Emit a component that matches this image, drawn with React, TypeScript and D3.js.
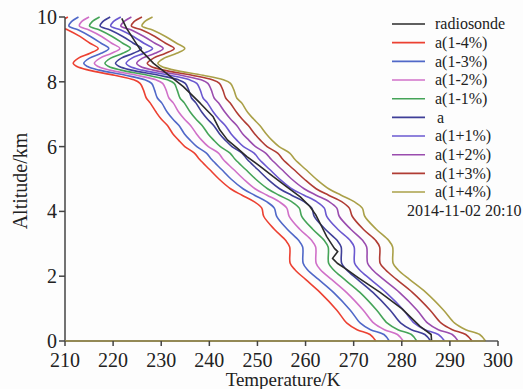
import React from "react";
import * as d3 from "d3";

const W = 523;
const H = 389;

// Shared altitude grid (km) for the retrieved profiles
const ALT = [0, 0.2, 0.35, 0.55, 0.95, 1.5, 1.9, 2.2, 2.4, 2.9, 3.1, 3.45, 3.85, 4.1, 4.3, 4.5, 4.7, 5.0, 5.3, 5.6, 5.8, 6.0, 6.2, 6.4, 6.65, 6.85, 7.05, 7.35, 7.5, 7.75, 7.95, 8.06, 8.2, 8.36, 8.47, 8.57, 8.73, 8.88, 9.03, 9.19, 9.4, 9.6, 9.72, 9.85, 10.0];

const T_M4 = [274.6, 273.4, 270.7, 268.6, 266.5, 263.0, 260.0, 257.8, 256.8, 256.7, 255.9, 253.5, 251.3, 250.9, 249.3, 246.8, 244.4, 242.0, 240.0, 238.0, 236.9, 234.9, 233.6, 232.4, 231.3, 230.0, 229.0, 227.7, 226.9, 226.3, 225.6, 224.3, 220.3, 214.9, 212.5, 211.7, 212.8, 215.2, 216.9, 215.2, 213.1, 210.6, 208.6, 209.1, 210.6];
const T_M3 = [277.4, 276.3, 273.5, 271.4, 269.3, 265.8, 262.7, 260.4, 259.5, 259.4, 258.6, 256.2, 254.0, 253.5, 251.9, 249.4, 247.0, 244.5, 242.5, 240.5, 239.4, 237.4, 236.0, 234.8, 233.7, 232.4, 231.3, 230.1, 229.2, 228.6, 228.0, 226.6, 222.6, 217.1, 214.7, 213.9, 215.1, 217.5, 219.1, 217.5, 215.3, 212.8, 210.8, 211.3, 212.8];
const T_M2 = [280.3, 279.1, 276.4, 274.2, 272.0, 268.5, 265.4, 263.1, 262.2, 262.1, 261.3, 258.8, 256.6, 256.1, 254.5, 252.0, 249.5, 247.1, 245.0, 242.9, 241.9, 239.8, 238.4, 237.3, 236.1, 234.8, 233.7, 232.5, 231.6, 231.0, 230.3, 228.9, 224.9, 219.3, 216.9, 216.1, 217.3, 219.7, 221.4, 219.7, 217.6, 215.0, 213.0, 213.4, 215.0];
const T_M1 = [283.1, 282.0, 279.2, 277.0, 274.8, 271.3, 268.1, 265.8, 264.8, 264.7, 263.9, 261.5, 259.2, 258.7, 257.1, 254.5, 252.1, 249.6, 247.5, 245.4, 244.3, 242.3, 240.9, 239.7, 238.5, 237.2, 236.1, 234.8, 233.9, 233.3, 232.7, 231.3, 227.2, 221.6, 219.1, 218.3, 219.5, 222.0, 223.6, 222.0, 219.8, 217.2, 215.1, 215.6, 217.2];
const T_A = [286.0, 284.8, 282.0, 279.8, 277.6, 274.0, 270.8, 268.5, 267.5, 267.4, 266.6, 264.1, 261.8, 261.3, 259.7, 257.1, 254.6, 252.1, 250.0, 247.9, 246.8, 244.7, 243.3, 242.1, 240.9, 239.6, 238.5, 237.2, 236.3, 235.7, 235.0, 233.6, 229.5, 223.8, 221.3, 220.5, 221.7, 224.2, 225.9, 224.2, 222.0, 219.4, 217.3, 217.8, 219.4];
const T_P1 = [288.9, 287.6, 284.8, 282.6, 280.4, 276.7, 273.5, 271.2, 270.2, 270.1, 269.3, 266.7, 264.4, 263.9, 262.3, 259.7, 257.1, 254.6, 252.5, 250.4, 249.3, 247.1, 245.7, 244.5, 243.3, 242.0, 240.9, 239.6, 238.7, 238.1, 237.4, 235.9, 231.8, 226.0, 223.5, 222.7, 223.9, 226.4, 228.2, 226.4, 224.2, 221.6, 219.5, 220.0, 221.6];
const T_P2 = [291.7, 290.5, 287.6, 285.4, 283.2, 279.5, 276.2, 273.9, 272.9, 272.7, 271.9, 269.4, 267.0, 266.5, 264.9, 262.2, 259.7, 257.1, 255.0, 252.9, 251.7, 249.6, 248.2, 246.9, 245.7, 244.4, 243.3, 241.9, 241.0, 240.4, 239.7, 238.3, 234.1, 228.3, 225.7, 224.9, 226.1, 228.7, 230.4, 228.7, 226.4, 223.8, 221.6, 222.2, 223.8];
const T_P3 = [294.6, 293.3, 290.5, 288.2, 285.9, 282.2, 278.9, 276.6, 275.5, 275.4, 274.6, 272.0, 269.7, 269.1, 267.5, 264.8, 262.2, 259.7, 257.5, 255.3, 254.2, 252.0, 250.6, 249.4, 248.1, 246.8, 245.7, 244.3, 243.4, 242.8, 242.1, 240.6, 236.4, 230.5, 227.9, 227.1, 228.4, 230.9, 232.7, 230.9, 228.7, 226.0, 223.8, 224.3, 226.0];
const T_P4 = [297.4, 296.2, 293.3, 291.0, 288.7, 285.0, 281.6, 279.2, 278.2, 278.1, 277.3, 274.7, 272.3, 271.8, 270.1, 267.4, 264.8, 262.2, 260.0, 257.8, 256.7, 254.5, 253.0, 251.8, 250.5, 249.2, 248.0, 246.7, 245.7, 245.1, 244.4, 242.9, 238.7, 232.7, 230.1, 229.3, 230.6, 233.2, 234.9, 233.2, 230.9, 228.2, 226.0, 226.5, 228.2];

// Radiosonde profile
const RS_ALT = [0, 0.2, 0.45, 1.0, 1.5, 1.95, 2.2, 2.4, 2.55, 2.76, 2.86, 3.22, 3.55, 3.9, 4.15, 4.45, 4.76, 5.07, 5.4, 5.69, 5.95, 6.2, 6.51, 6.92, 7.34, 7.85, 8.26, 8.57, 9.0, 9.65, 9.96];
const RS_TEMP = [286.2, 286.1, 283.8, 280.0, 275.5, 271.0, 268.6, 266.6, 265.6, 266.7, 266.0, 264.4, 263.3, 262.1, 260.9, 258.9, 256.1, 253.3, 250.5, 247.8, 245.8, 243.8, 242.2, 240.8, 238.1, 234.6, 231.1, 228.4, 225.6, 222.8, 221.8];

const LEGEND_NAMES = ["radiosonde", "a(1-4%)", "a(1-3%)", "a(1-2%)", "a(1-1%)", "a", "a(1+1%)", "a(1+2%)", "a(1+3%)", "a(1+4%)"];
const MODEL_SERIES = [T_M4, T_M3, T_M2, T_M1, T_A, T_P1, T_P2, T_P3, T_P4];
const COLORS = ["#2a2a2a", "#ec4132", "#5068c8", "#d070c8", "#45a458", "#3f3f98", "#6a58d0", "#9a4cae", "#b03c34", "#aaa048"];

const X_TICKS = [210, 220, 230, 240, 250, 260, 270, 280, 290, 300];
const Y_TICKS = [0, 2, 4, 6, 8, 10];
const DATE_LABEL = "2014-11-02 20:10";

export default function App() {
  const x = d3.scaleLinear().domain([210, 300]).range([65, 498]);
  const y = d3.scaleLinear().domain([0, 10]).range([341, 17]);
  const font = "'Liberation Serif', 'Times New Roman', serif";

  const line = d3
    .line<[number, number]>()
    .x((d) => x(d[0]))
    .y((d) => y(d[1]))
    .curve(d3.curveCatmullRom.alpha(0.5));
  const rsLine = d3
    .line<[number, number]>()
    .x((d) => x(d[0]))
    .y((d) => y(d[1]));

  const modelPaths = MODEL_SERIES.map((s) => line(s.map((t, i) => [t, ALT[i]] as [number, number])) || "");
  const rsPath = rsLine(RS_TEMP.map((t, i) => [t, RS_ALT[i]] as [number, number])) || "";

  const legendY0 = 24;
  const legendDy = 18.67;

  return (
    <svg width={W} height={H} style={{ position: "absolute", left: 0, top: 0, background: "#fdfdfd" }} fontFamily={font}>
      <defs>
        <clipPath id="plotclip">
          <rect x={x(210)} y={0} width={x(300) - x(210) + 4} height={y(0) + 1} />
        </clipPath>
      </defs>
      <rect x={0} y={0} width={W} height={H} fill="#fdfdfd" />

      {/* curves */}
      <g clipPath="url(#plotclip)" fill="none" strokeWidth={1.6} strokeLinejoin="round">
        {modelPaths.map((p, i) => (
          <path key={i} d={p} stroke={COLORS[i + 1]} />
        ))}
        <path d={rsPath} stroke={COLORS[0]} strokeWidth={1.6} />
      </g>

      {/* y axis */}
      <line x1={x(210)} x2={x(210)} y1={y(10)} y2={y(0)} stroke="#444" strokeWidth={1.5} />
      {Y_TICKS.map((t) => (
        <g key={t}>
          <line x1={x(210) - 6} x2={x(210)} y1={y(t)} y2={y(t)} stroke="#444" strokeWidth={1.5} />
          <text x={x(210) - 8} y={y(t)} dy="0.35em" textAnchor="end" fontSize={20} fill="#222">
            {t}
          </text>
        </g>
      ))}

      {/* x axis */}
      <line x1={x(210)} x2={x(300)} y1={y(0)} y2={y(0)} stroke="#555" strokeWidth={1.5} />
      <line x1={x(210)} x2={x(T_P4[0])} y1={y(0)} y2={y(0)} stroke="#9a8c48" strokeWidth={1.6} />
      {X_TICKS.map((t) => (
        <g key={t}>
          <line x1={x(t)} x2={x(t)} y1={y(0)} y2={y(0) + 5} stroke="#444" strokeWidth={1.5} />
          <text x={x(t)} y={367} textAnchor="middle" fontSize={20} fill="#222">
            {t}
          </text>
        </g>
      ))}

      <text x={283} y={386} textAnchor="middle" fontSize={19} fill="#222">
        Temperature/K
      </text>
      <text transform={`translate(27,181) rotate(-90)`} textAnchor="middle" fontSize={20} fill="#222">
        Altitude/km
      </text>

      {/* legend */}
      {LEGEND_NAMES.map((name, i) => (
        <g key={name}>
          <line x1={392} x2={425} y1={legendY0 + i * legendDy} y2={legendY0 + i * legendDy} stroke={COLORS[i]} strokeWidth={1.6} />
          <text x={name === "a" ? 437 : 435} y={legendY0 + i * legendDy} dy="0.33em" fontSize={16} fill="#222">
            {name}
          </text>
        </g>
      ))}
      <text x={407} y={legendY0 + 10 * legendDy} dy="0.33em" fontSize={16} fill="#222">
        {DATE_LABEL}
      </text>
    </svg>
  );
}
